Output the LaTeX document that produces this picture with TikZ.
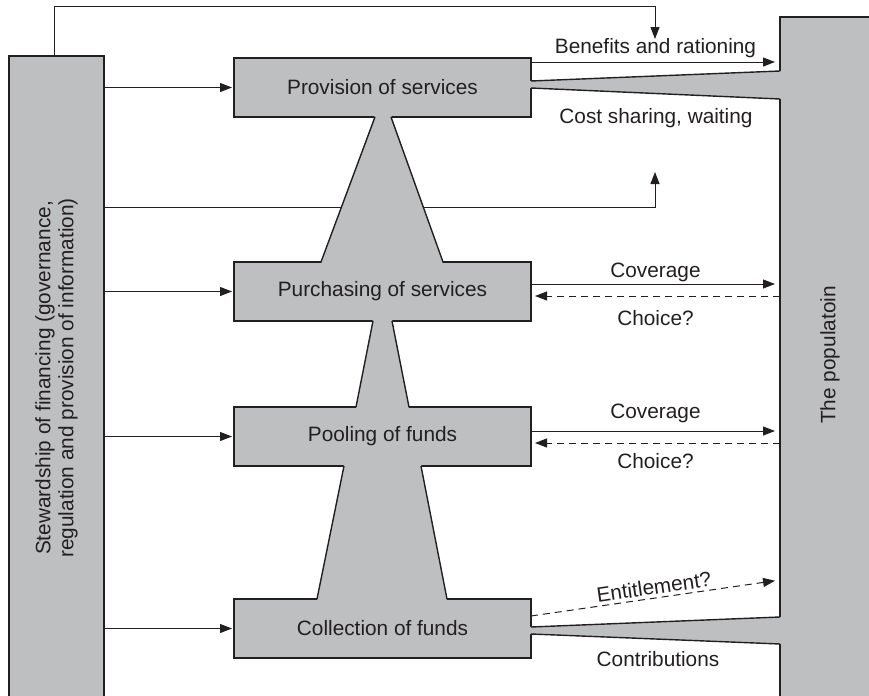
\documentclass[tikz,border=0pt]{standalone}
\usepackage{fontspec}
\setmainfont{Liberation Sans}
\usetikzlibrary{%
    arrows.meta,
    calc,
    positioning
}
\definecolor{popgray}{RGB}{190,191,193}
\definecolor{inkgray}{RGB}{35,31,32}

\begin{document}
\begin{tikzpicture}[x=0.5pt, y=-0.5pt,
    every node/.style={text=inkgray, font=\fontsize{10.4}{11.6}\selectfont},
    stage/.style={draw=inkgray, fill=popgray, line width=0.7pt, outer sep=0pt,
                  inner sep=0pt, minimum width=148.5pt, minimum height=29.5pt},
    bar/.style={draw=inkgray, fill=popgray, outer sep=0pt, inner sep=0pt},
    edge/.style={draw=inkgray, line width=0.7pt},
    flow/.style={draw=inkgray, line width=0.5pt,
                 -{Triangle[length=6pt,width=4.5pt]}},
    back/.style={flow, dash pattern=on 3.5pt off 2.5pt},
    tag/.style={inner sep=1pt},
   ]
    \useasboundingbox (0,0) rectangle (869,696);

    % the two side bars
    \node[bar, line width=1pt, minimum width=47.5pt, minimum height=322pt]
        (steward) at (56.5,378) {};
    \node[rotate=90, align=center] at (steward)
        {Stewardship of financing (governance,\\regulation and provision of information)};
    \node[bar, line width=0.6pt, minimum width=50pt, minimum height=341.5pt]
        (population) at (830,358.5) {};
    \node[rotate=90] at ([yshift=1.75pt]population.center) {The populatoin};

    % the four functions
    \node[stage] (provision)  at (382.5,87.5)  {Provision of services};
    \node[stage] (purchasing) at (382.5,291.5) {Purchasing of services};
    \node[stage] (pooling)    at (382.5,436.5) {Pooling of funds};
    \node[stage] (collection) at (382.5,628.5) {Collection of funds};

    \coordinate (rationing) at (655,39);
    \coordinate (sharing)   at (655,172);

    % stewardship lines
    \draw[flow] ([xshift=-1.25pt]steward.north) |- (655,6) -- (rationing);
    \draw[flow] (steward.east |- 0,207) -| (sharing);
    \foreach \Box in {provision,purchasing,pooling,collection}
        \draw[flow, shorten >=1pt] (steward.east |- \Box) -- (\Box.west);

    % funnels between the functions
    \foreach \Upper/\Lower/\TopL/\TopR/\BotL/\BotR in {%
        provision/purchasing/375/391/321/443,%
        purchasing/pooling/373/392/356/409,%
        pooling/collection/344/421/317/447%
        } {
        \fill[popgray] ($(\Upper.south -| \TopL,0)+(0,-2)$)
                    -- ($(\Upper.south -| \TopR,0)+(0,-2)$)
                    -- ($(\Lower.north -| \BotR,0)+(0,2)$)
                    -- ($(\Lower.north -| \BotL,0)+(0,2)$) -- cycle;
        \draw[edge] (\Upper.south -| \TopL,0) -- (\Lower.north -| \BotL,0)
                    (\Upper.south -| \TopR,0) -- (\Lower.north -| \BotR,0);
    }

    % wedges to the population
    \foreach \Box/\BoxUp/\BarUp/\BarDown/\BoxDown in {%
        provision/81/71/99/88,%
        collection/627/617/644/634%
        } {
        \fill[popgray] ($(\Box.east |- 0,\BoxUp)+(-2,0)$)
                    -- ($(population.west |- 0,\BarUp)+(2,0)$)
                    -- ($(population.west |- 0,\BarDown)+(2,0)$)
                    -- ($(\Box.east |- 0,\BoxDown)+(-2,0)$) -- cycle;
        \draw[edge] (\Box.east |- 0,\BoxUp) -- (population.west |- 0,\BarUp)
                    (\Box.east |- 0,\BoxDown) -- (population.west |- 0,\BarDown);
    }

    % flows to and from the population
    \draw[flow, shorten >=2.5pt] ([yshift=12.75pt]provision.east)
        -- node[tag, above=1pt] {Benefits and rationing}
           ([yshift=12.75pt]provision.east -| population.west);
    \node at (656,118) {Cost sharing, waiting};

    \foreach \Box/\Up/\UpGap/\Down/\DownGap in {%
        purchasing/3.75pt/0pt/-2.25pt/6pt,%
        pooling/2.75pt/3pt/-3.25pt/4pt%
        } {
        \draw[flow, shorten >=2.5pt] ([yshift=\Up]\Box.east)
            -- node[tag, above=\UpGap] {Coverage}
               ([yshift=\Up]\Box.east -| population.west);
        \draw[back, shorten >=2pt] ([yshift=\Down]\Box.east -| population.west)
            -- node[tag, below=\DownGap] {Choice?}
               ([yshift=\Down]\Box.east);
    }

    \draw[back, shorten >=2.5pt] ([yshift=6.25pt]collection.east)
        -- node[tag, sloped, above=0.5pt] {Entitlement?}
           (population.west |- 0,580);
    \node at (658,659) {Contributions};
\end{tikzpicture}
\end{document}
